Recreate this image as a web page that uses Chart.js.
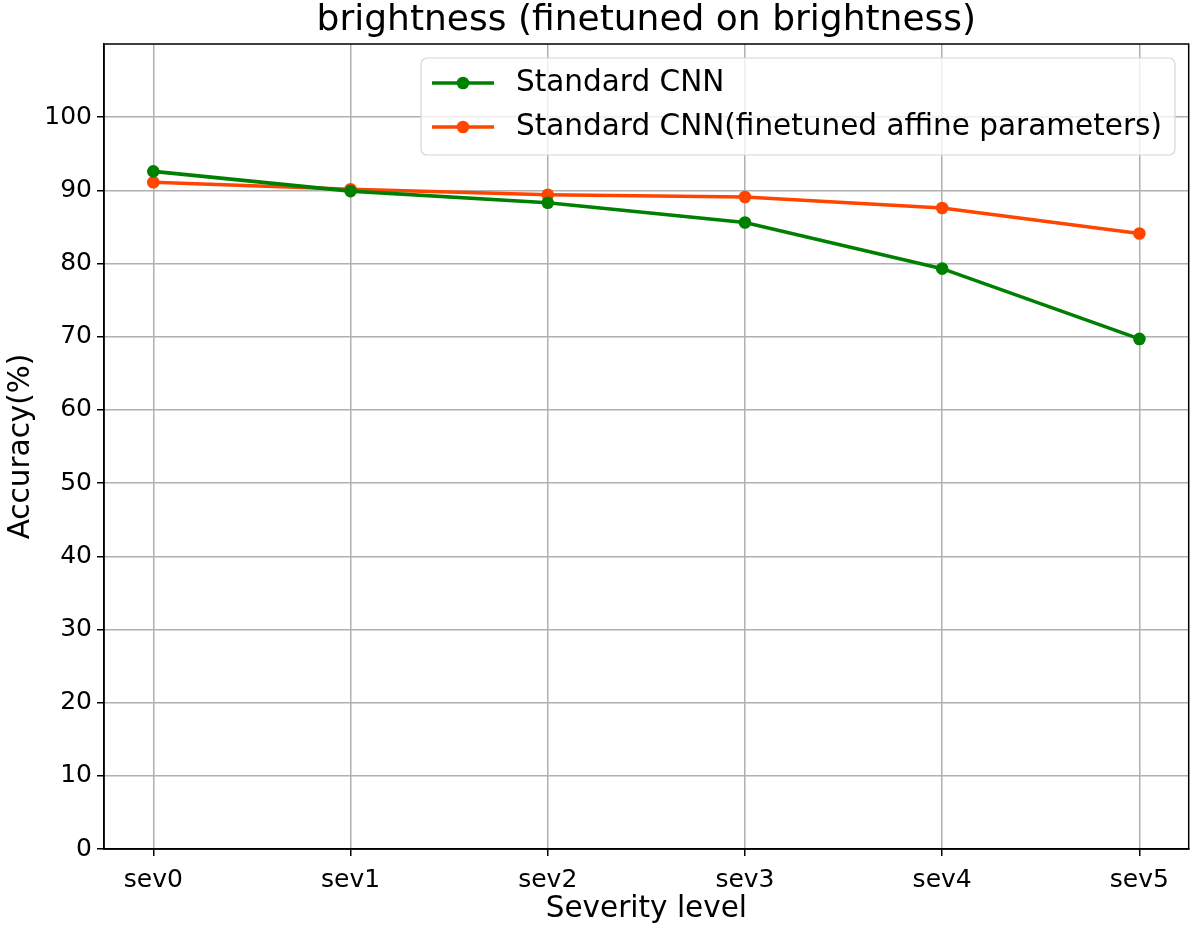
<!DOCTYPE html>
<html>
<head>
<meta charset="utf-8">
<script src="https://cdn.jsdelivr.net/npm/chart.js@4.4.0/dist/chart.umd.min.js"></script>
<style>
  html, body { margin: 0; padding: 0; background: #fff; }
  #wrap { width: 1195px; height: 929px; }
</style>
</head>
<body>
<div id="wrap"><canvas id="myChart" width="1195" height="929"></canvas></div>
<script>
const severities = ['sev0', 'sev1', 'sev2', 'sev3', 'sev4', 'sev5'];
const standardCnn = [92.6, 89.9, 88.3, 85.6, 79.3, 69.7];
const finetunedAffine = [91.1, 90.15, 89.4, 89.1, 87.6, 84.1];
const yTicks = [0, 10, 20, 30, 40, 50, 60, 70, 80, 90, 100];
const chartTitle = 'brightness (finetuned on brightness)';

const FONT = 'DejaVu Sans';

const toPoints = (vals) => vals.map((v, i) => ({ x: i, y: v }));

// frame, title over the axes and legend, drawn like matplotlib
const frameAndLegend = {
    id: 'frameAndLegend',
    afterDraw(chart) {
        const ctx = chart.ctx;
        const a = chart.chartArea;
        ctx.save();
        ctx.strokeStyle = '#000';
        ctx.lineWidth = 1.5;
        ctx.strokeRect(a.left, a.top, a.right - a.left, a.bottom - a.top);

        ctx.fillStyle = '#000';
        ctx.font = '36px "' + FONT + '"';
        ctx.textAlign = 'center';
        ctx.textBaseline = 'middle';
        ctx.fillText(chartTitle, (a.left + a.right) / 2, 21);

        // legend box
        const bx = 421, by = 58, bw = 754, bh = 97, r = 6;
        ctx.beginPath();
        ctx.roundRect(bx, by, bw, bh, r);
        ctx.fillStyle = 'rgba(255,255,255,0.8)';
        ctx.fill();
        ctx.strokeStyle = '#d6d6d6';
        ctx.lineWidth = 1.2;
        ctx.stroke();

        chart.data.datasets.forEach((ds, i) => {
            const y = 83 + i * 44;
            ctx.strokeStyle = ds.borderColor;
            ctx.lineWidth = 3.6;
            ctx.beginPath();
            ctx.moveTo(432, y);
            ctx.lineTo(494, y);
            ctx.stroke();
            ctx.fillStyle = ds.borderColor;
            ctx.beginPath();
            ctx.arc(463, y, 6.3, 0, Math.PI * 2);
            ctx.fill();
            ctx.fillStyle = '#000';
            ctx.font = '29.5px "' + FONT + '"';
            ctx.textBaseline = 'middle';
            ctx.textAlign = 'left';
            ctx.fillText(ds.label, 516, y);
        });
        ctx.restore();
    }
};

const data = {
    datasets: [
        {
            label: 'Standard CNN',
            data: toPoints(standardCnn),
            borderColor: '#008000',
            backgroundColor: '#008000',
        },
        {
            label: 'Standard CNN(finetuned affine parameters)',
            data: toPoints(finetunedAffine),
            borderColor: '#ff4500',
            backgroundColor: '#ff4500',
        },
    ],
};

const config = {
    type: 'line',
    data: data,
    options: {
        responsive: false,
        animation: false,
        layout: { padding: { left: 0, right: 6, top: 44, bottom: 0 } },
        elements: {
            line: { borderWidth: 3.6, tension: 0 },
            point: { radius: 6.3, hoverRadius: 6.3, borderWidth: 0 },
        },
        plugins: {
            legend: { display: false },
            tooltip: { enabled: false },
            title: { display: false },
        },
        scales: {
            x: {
                type: 'linear',
                min: -0.25,
                max: 5.25,
                afterBuildTicks: (axis) => {
                    axis.ticks = severities.map((s, i) => ({ value: i }));
                },
                afterFit: (axis) => { axis.height = 80; },
                ticks: {
                    callback: (v) => severities[v],
                    color: '#000',
                    font: { family: FONT, size: 25 },
                    padding: 9,
                    maxRotation: 0,
                },
                grid: {
                    color: '#b0b0b0',
                    lineWidth: 1.5,
                    tickColor: '#000',
                    tickLength: 7,
                },
                border: { display: true, color: '#000', width: 1.5 },
                title: {
                    display: true,
                    text: 'Severity level',
                    color: '#000',
                    font: { family: FONT, size: 29.5 },
                    padding: { top: 0, bottom: 2 },
                },
            },
            y: {
                min: 0,
                max: 110,
                afterBuildTicks: (axis) => {
                    axis.ticks = yTicks.map((v) => ({ value: v }));
                },
                afterFit: (axis) => { axis.width = 104; },
                ticks: {
                    color: '#000',
                    font: { family: FONT, size: 25 },
                    padding: 5,
                },
                grid: {
                    color: '#b0b0b0',
                    lineWidth: 1.5,
                    tickColor: '#000',
                    tickLength: 7,
                },
                border: { display: true, color: '#000', width: 1.5 },
                title: {
                    display: true,
                    text: 'Accuracy(%)',
                    color: '#000',
                    font: { family: FONT, size: 29.5 },
                    padding: { top: 4, bottom: 0 },
                },
            },
        },
    },
    plugins: [frameAndLegend],
};

const myChart = new Chart(document.querySelector('#myChart').getContext('2d'), config);
</script>
</body>
</html>
